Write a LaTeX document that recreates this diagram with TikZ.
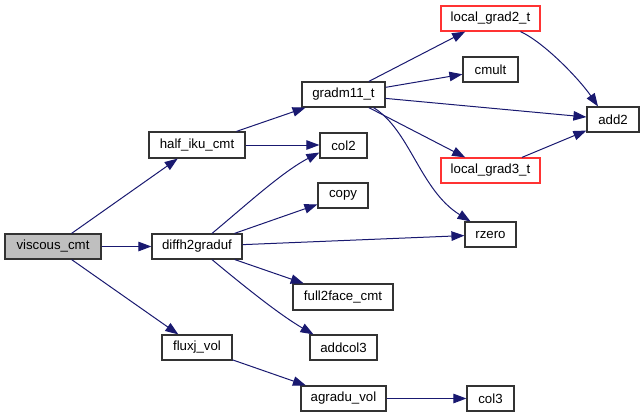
\documentclass[tikz,border=0pt]{standalone}
\usepackage{fontspec}
\setmainfont{Liberation Sans}
\usetikzlibrary{arrows.meta}
\definecolor{edgeblue}{HTML}{191970}
\definecolor{boxgray}{HTML}{BFBFBF}
\definecolor{boxred}{HTML}{FF3333}
\tikzset{
  fn/.style={draw=black!80, line width=1.2bp, fill=white, inner sep=0pt,
    minimum height=25bp, font=\fontsize{13.3}{15}\selectfont, text=black},
  root/.style={fn, fill=boxgray},
  ext/.style={fn, draw=boxred},
  call/.style={draw=edgeblue, line width=1bp, -{Triangle[length=13bp,width=9.5bp]}}
}
\begin{document}
\begin{tikzpicture}[x=1bp,y=-1bp]
\useasboundingbox (0,0) rectangle (644,417);
% nodes
\node[root, minimum width=96bp] (viscous) at (53,246.5) {viscous\_cmt};
\node[fn, minimum width=96bp, minimum height=26bp] (halfiku) at (197,145) {half\_iku\_cmt};
\node[fn, minimum width=90bp] (diffh) at (197,246.5) {diffh2graduf};
\node[fn, minimum width=70bp] (fluxj) at (197,347.5) {fluxj\_vol};
\node[fn, minimum width=83bp] (gradm) at (343.5,94.5) {gradm11\_t};
\node[fn, minimum width=47bp] (col2) at (343.5,145.5) {col2};
\node[fn, minimum width=50bp] (copy) at (343,195.5) {copy};
\node[fn, minimum width=100bp, minimum height=26bp] (full2face) at (343,297) {full2face\_cmt};
\node[fn, minimum width=67bp] (addcol3) at (343.5,347.5) {addcol3};
\node[fn, minimum width=85bp] (agradu) at (343.5,398.5) {agradu\_vol};
\node[ext, minimum width=99bp] (lg2) at (490.5,18.5) {local\_grad2\_t};
\node[fn, minimum width=55bp] (cmult) at (490.5,69.5) {cmult};
\node[ext, minimum width=99bp] (lg3) at (490.5,170.5) {local\_grad3\_t};
\node[fn, minimum width=51bp] (rzero) at (490.5,234.5) {rzero};
\node[fn, minimum width=47bp] (col3) at (490.5,398.5) {col3};
\node[fn, minimum width=52bp] (add2) at (613,119.5) {add2};
% edges
\draw[call] (viscous) -- (halfiku);
\draw[call] (viscous) -- (diffh);
\draw[call] (viscous) -- (fluxj);
\draw[call] (halfiku) -- (gradm);
\draw[call] (halfiku.east) -- (col2.west |- halfiku.east);
\draw[call] ([xshift=15bp]diffh.north) .. controls (245,206) and (282,172) .. ([yshift=-7bp]col2.west);
\draw[call] (diffh) -- (copy);
\draw[call] (diffh) -- (rzero);
\draw[call] (diffh) -- (full2face);
\draw[call] ([xshift=15bp]diffh.south) .. controls (245,287) and (280,315) .. ([xshift=-30bp]addcol3.north);
\draw[call] (gradm) -- (lg2);
\draw[call] (gradm) -- (cmult);
\draw[call] (gradm) -- (add2);
\draw[call] (gradm) -- (lg3);
\draw[call] ([xshift=30bp]gradm.south) .. controls (410,130) and (420,190) .. ([xshift=-20bp]rzero.north);
\draw[call] ([xshift=30bp]lg2.south) .. controls (545,43) and (580,80) .. ([xshift=-15bp]add2.north);
\draw[call] (lg3) -- (add2);
\draw[call] (fluxj) -- (agradu);
\draw[call] (agradu) -- (col3);
\end{tikzpicture}
\end{document}
